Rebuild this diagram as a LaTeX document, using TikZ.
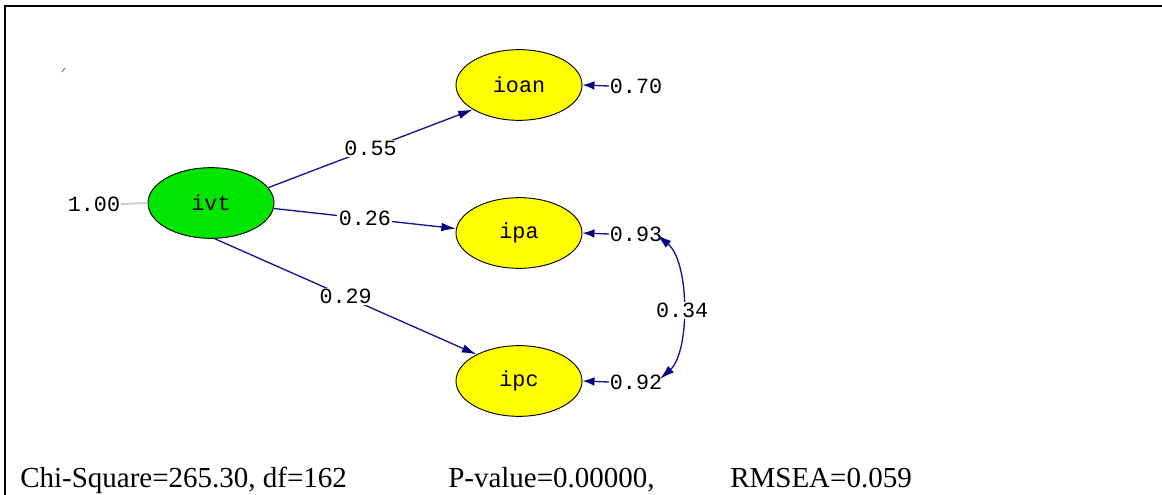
\documentclass[tikz,border=0pt]{standalone}
\usepackage{fontspec}
\setmainfont{Liberation Serif}
\newfontfamily\monofont{Liberation Mono}
\usetikzlibrary{shapes.geometric,arrows.meta}
\definecolor{navy}{RGB}{0,0,128}
\definecolor{pathblue}{RGB}{20,20,150}
\definecolor{varpink}{RGB}{220,190,215}
\definecolor{latgreen}{RGB}{0,230,0}
\definecolor{latyellow}{RGB}{255,255,0}
\begin{document}
\begin{tikzpicture}[x=0.75pt,y=-0.75pt,
  latent/.style={ellipse,draw=black,line width=0.7pt,minimum width=94.5pt,minimum height=53pt,inner sep=0pt,font=\monofont\fontsize{16.3}{18}\selectfont},
  lab/.style={fill=white,inner sep=1pt,font=\monofont\fontsize{16.3}{18}\selectfont},
  errlab/.style={inner sep=0.5pt,font=\monofont\fontsize{16.3}{18}\selectfont},
  patharrow/.style={draw=pathblue,line width=1pt,-{Latex[length=11pt,width=6.5pt,color=navy]}},
  errarrow/.style={draw=pathblue,line width=1pt,-{Latex[length=9pt,width=6.5pt,color=navy]}},
  corrarrow/.style={draw=pathblue,line width=1pt,{Latex[length=11pt,width=6.5pt,color=navy]}-{Latex[length=11pt,width=6.5pt,color=navy]}},
  stat/.style={anchor=base west,inner sep=0pt,font=\fontsize{21.75}{24}\selectfont}
]
\useasboundingbox (0,0) rectangle (1162,495);
% frame
\draw[line width=1.5pt] (1162,6) -- (5,6) -- (5,495);
% stray mark
\draw[gray,line width=0.8pt] (62,72) -- (65,68);
% latent variables
\node[latent,fill=latgreen] (ivt) at (211,203) {ivt};
\node[latent,fill=latyellow] (ioan) at (519,85) {ioan};
\node[latent,fill=latyellow] (ipa) at (519,233) {ipa};
\node[latent,fill=latyellow] (ipc) at (519,381) {ipc};
% variance of ivt
\node[errlab] (v1) at (94,204) {1.00};
\draw[varpink,line width=1.3pt] (v1.east) -- (ivt.west);
% structural paths
\draw[patharrow] (ivt.15) -- node[lab] {0.55} (ioan.208);
\draw[patharrow] (ivt.-5) -- node[lab] {0.26} (ipa.176);
\draw[patharrow] (ivt.-84) -- node[lab] {0.29} (ipc.148);
% error variances
\node[errlab] (e1) at (636,86) {0.70};
\node[errlab] (e2) at (636,234) {0.93};
\node[errlab] (e3) at (636,382) {0.92};
\draw[errarrow] (e1.west) -- (ioan.east);
\draw[errarrow] (e2.west) -- (ipa.east);
\draw[errarrow] (e3.west) -- (ipc.east);
% error covariance
\coordinate (c1) at (657,235);
\coordinate (c2) at (660,379);
\draw[corrarrow] (c1) .. controls (690,262) and (690,352) .. node[lab,pos=0.52] {0.34} (c2);
% fit statistics
\node[stat] (chi) at (20,487) {Chi-Square=265.30, df=162};
\node[stat] (pv) at (448,487) {P-value=0.00000,};
\node[stat] (rm) at (730,487) {RMSEA=0.059};
\end{tikzpicture}
\end{document}
